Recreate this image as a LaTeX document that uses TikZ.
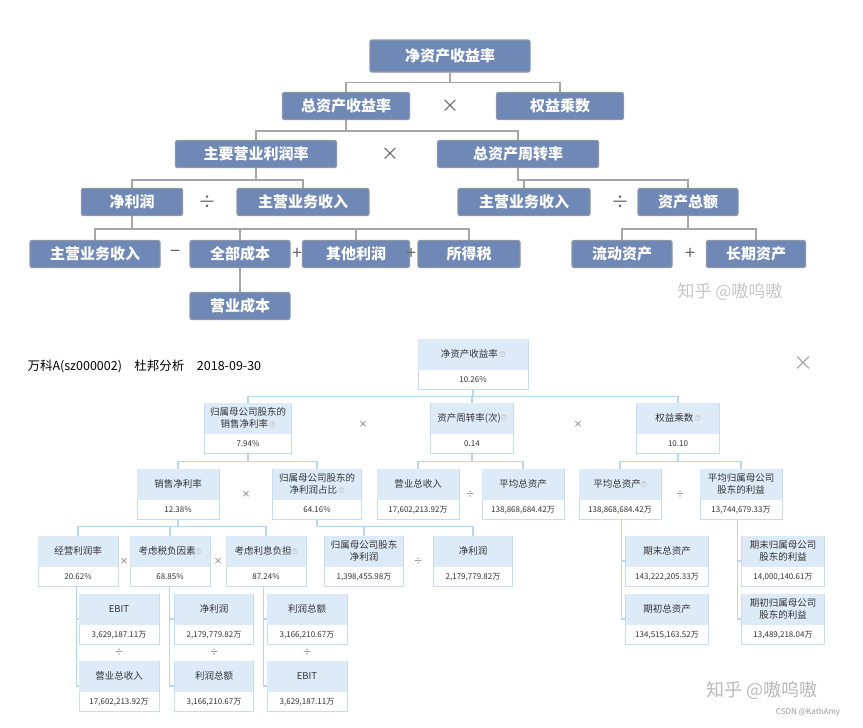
\documentclass[tikz,border=0pt]{standalone}
\usepackage{fontspec}
\setmainfont{Noto Sans CJK SC}
\usetikzlibrary{calc}
\definecolor{tb}{HTML}{6F88B6}
\definecolor{tbd}{HTML}{8A96AA}
\definecolor{hd}{HTML}{DDEBF9}
\definecolor{bd}{HTML}{C9DCEE}
\definecolor{ln}{HTML}{BAD5EE}
\tikzset{
 topbox/.style={fill=tb,draw=tbd,line width=1.2pt,rounded corners=2pt,text=white,font=\fontsize{15}{16}\selectfont\bfseries,minimum height=27pt,inner sep=0pt},
 topln/.style={draw=gray!70,line width=1.3pt},
 op/.style={font=\fontsize{18}{18}\selectfont,text=gray!80!black},
 cardbox/.style={draw=bd,line width=0.7pt,minimum height=50pt,inner sep=0pt},
 conn/.style={draw=ln,line width=1.2pt},
 hdtext/.style={font=\fontsize{9.5}{12}\selectfont,align=center,text=black!80},
 vtext/.style={font=\fontsize{8}{9}\selectfont,text=black!80},
 sop/.style={font=\fontsize{9}{9}\selectfont,text=black!60},
}
\newcommand\qm{\tikz[baseline=-0.7ex]\node[circle,draw=gray!50,inner sep=0.3pt,font=\fontsize{5}{5}\selectfont,text=gray!70]{?};}
\newcommand\card[6]{%
 \node[cardbox,minimum width=#4pt] (#1) at (#2,#3) {};
 \fill[hd] ($(#1.north west)+(0.4,0.4)$) rectangle ($(#1.north east)+(-0.4,31)$);
 \node[hdtext] at ($(#1.north)+(0,15.5)$) {#5};
 \node[vtext] at ($(#1.south)+(0,-9.5)$) {#6};
}
\begin{document}
\begin{tikzpicture}[x=1pt,y=-1pt]
\useasboundingbox (0,0) rectangle (863,728);
% ---------- top diagram
\node[topbox,minimum width=160pt,minimum height=32pt] (a0) at (450,56) {净资产收益率};
\node[topbox,minimum width=127pt] (a1) at (346,106) {总资产收益率};
\node[topbox,minimum width=127pt] (a2) at (560,106) {权益乘数};
\node[topbox,minimum width=161pt] (b1) at (256,154) {主要营业利润率};
\node[topbox,minimum width=161pt] (b2) at (518,154) {总资产周转率};
\node[topbox,minimum width=101pt] (c1) at (132,202) {净利润};
\node[topbox,minimum width=132pt] (c2) at (303,202) {主营业务收入};
\node[topbox,minimum width=132pt] (c3) at (524,202) {主营业务收入};
\node[topbox,minimum width=100pt] (c4) at (688,202) {资产总额};
\node[topbox,minimum width=130pt] (d1) at (95,254) {主营业务收入};
\node[topbox,minimum width=100pt] (d2) at (240,254) {全部成本};
\node[topbox,minimum width=107pt] (d3) at (356,254) {其他利润};
\node[topbox,minimum width=102pt] (d4) at (469,254) {所得税};
\node[topbox,minimum width=100pt] (d5) at (622,254) {流动资产};
\node[topbox,minimum width=99pt] (d6) at (756,254) {长期资产};
\node[topbox,minimum width=100pt] (e1) at (240,306) {营业成本};
\begin{scope}[topln]
\draw (a0.south) -- ++(0,10) -| (a1.north); \draw (a0.south) -- ++(0,10) -| (a2.north);
\draw (a1.south) -- ++(0,11) -| (b1.north); \draw (a1.south) -- ++(0,11) -| (b2.north);
\draw (b1.south) -- ++(0,12) -| (c1.north); \draw (b1.south) -- ++(0,12) -| (c2.north);
\draw (b2.south) -- ++(0,12) -| (c3.north); \draw (b2.south) -- ++(0,12) -| (c4.north);
\foreach \d in {d1,d2,d3,d4} \draw (c1.south) -- ++(0,13) -| (\d.north);
\draw (c4.south) -- ++(0,13) -| (d5.north); \draw (c4.south) -- ++(0,13) -| (d6.north);
\draw (d2.south) -- (e1.north);
\end{scope}
\node[op] at (450,106) {×}; \node[op] at (390,154) {×};
\node[op] at (207,202) {÷}; \node[op] at (620,202) {÷};
\node[op] at (175,254) {−}; \node[op] at (297,254) {+}; \node[op] at (411,254) {+}; \node[op] at (690,254) {+};
\node[font=\fontsize{17}{17}\selectfont,text=gray!45] at (730,292) {知乎 @嗷呜嗷};
% ---------- bottom diagram
\node[anchor=west,font=\fontsize{12.5}{13}\selectfont] (title) at (24,366) {万科A(sz000002)\quad 杜邦分析\quad 2018-09-30};
\node[font=\fontsize{20}{20}\selectfont,text=gray!70] (close) at (803,364) {×};
\card{r0}{473}{364}{110}{净资产收益率\,\qm}{10.26\%}
\card{r1}{248}{428}{87}{归属母公司股东的\\销售净利率\,\qm}{7.94\%}
\card{r2}{472}{428}{83}{资产周转率(次)\qm}{0.14}
\card{r3}{678}{428}{83}{权益乘数\,\qm}{10.10}
\card{s1}{178}{494}{82}{销售净利率}{12.38\%}
\card{s2}{317}{494}{89}{归属母公司股东的\\净利润占比\,\qm}{64.16\%}
\card{s3}{418}{494}{82}{营业总收入}{17,602,213.92万}
\card{s4}{523}{494}{82}{平均总资产}{138,868,684.42万}
\card{s5}{620}{494}{82}{平均总资产\qm}{138,868,684.42万}
\card{s6}{741}{494}{82}{平均归属母公司\\股东的利益}{13,744,679.33万}
\card{t1}{78}{561}{80}{经营利润率}{20.62\%}
\card{t2}{170}{561}{80}{考虑税负因素\qm}{68.85\%}
\card{t3}{266}{561}{80}{考虑利息负担\qm}{87.24\%}
\card{t4}{364}{561}{79}{归属母公司股东\\净利润}{1,398,455.98万}
\card{t5}{473}{561}{79}{净利润}{2,179,779.82万}
\card{u1}{119}{619}{80}{EBIT}{3,629,187.11万}
\card{u2}{119}{686}{80}{营业总收入}{17,602,213.92万}
\card{u3}{214}{619}{79}{净利润}{2,179,779.82万}
\card{u4}{214}{686}{79}{利润总额}{3,166,210.67万}
\card{u5}{307}{619}{80}{利润总额}{3,166,210.67万}
\card{u6}{307}{686}{80}{EBIT}{3,629,187.11万}
\card{v1}{667}{561}{83}{期末总资产}{143,222,205.33万}
\card{v2}{667}{619}{83}{期初总资产}{134,515,163.52万}
\card{v3}{783}{561}{83}{期末归属母公司\\股东的利益}{14,000,140.61万}
\card{v4}{783}{619}{83}{期初归属母公司\\股东的利益}{13,489,218.04万}
\begin{scope}[conn]
\foreach \c in {r1,r2,r3} \draw (r0.south) -- ++(0,7) -| (\c.north);
\foreach \c in {s1,s2} \draw (r1.south) -- ++(0,8) -| (\c.north);
\foreach \c in {s3,s4} \draw (r2.south) -- ++(0,8) -| (\c.north);
\foreach \c in {s5,s6} \draw (r3.south) -- ++(0,8) -| (\c.north);
\foreach \c in {t1,t2,t3} \draw (s1.south) -- ++(0,7) -| (\c.north);
\foreach \c in {t4,t5} \draw (s2.south) -- ++(0,7) -| (\c.north);
\draw ($(t1.south west)+(39,0)$) |- (u1.west); \draw ($(t1.south west)+(39,0)$) |- (u2.west);
\draw ($(t2.south west)+(40,0)$) |- (u3.west); \draw ($(t2.south west)+(40,0)$) |- (u4.west);
\draw ($(t3.south west)+(38,0)$) |- (u5.west); \draw ($(t3.south west)+(38,0)$) |- (u6.west);
\draw ($(s5.south west)+(43,0)$) |- (v1.west); \draw ($(s5.south west)+(43,0)$) |- (v2.west);
\draw ($(s6.south west)+(38,0)$) |- (v3.west); \draw ($(s6.south west)+(38,0)$) |- (v4.west);
\end{scope}
\node[sop] at (363,424) {×}; \node[sop] at (578,424) {×};
\node[sop] at (246,494) {×}; \node[sop] at (470,494) {÷}; \node[sop] at (680,494) {÷};
\node[sop] at (124,561) {×}; \node[sop] at (218,561) {×}; \node[sop] at (418,561) {÷};
\node[sop] at (119,652) {÷}; \node[sop] at (214,652) {÷}; \node[sop] at (307,652) {÷};
\node[font=\fontsize{18}{18}\selectfont,text=gray!55] at (762,690) {知乎 @嗷呜嗷};
\node[font=\fontsize{8}{8}\selectfont,text=gray!80] at (808,712) {CSDN @KathAmy};
\end{tikzpicture}
\end{document}
